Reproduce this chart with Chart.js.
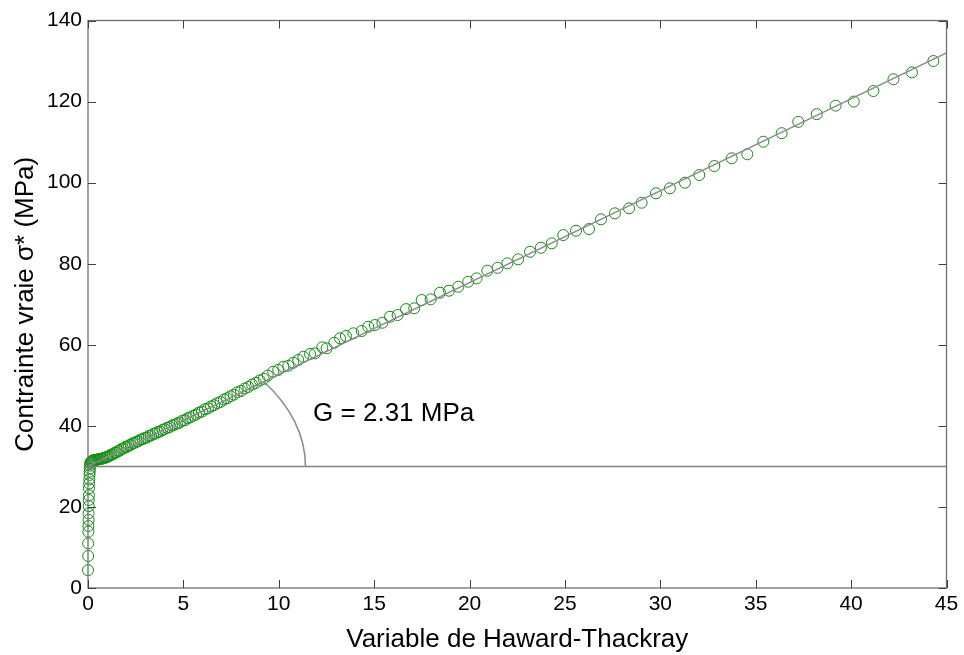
<!DOCTYPE html>
<html>
<head>
<meta charset="utf-8">
<script src="https://cdn.jsdelivr.net/npm/chart.js@4"></script>
<style>
  html, body { margin: 0; padding: 0; background: #fff; }
  canvas { display: block; }
</style>
</head>
<body>
<canvas id="chart" width="964" height="655"></canvas>
<script>
// Measured points: Haward-Thackray variable (x) vs true stress in MPa (y)
const htX = [
    0.00, 0.01, 0.01, 0.02, 0.02, 0.03, 0.03, 0.04, 0.04, 0.05, 0.05, 0.06, 0.07, 0.08, 0.09, 0.10, 0.11, 0.12,
    0.14, 0.17, 0.20, 0.24, 0.28, 0.33, 0.38, 0.44, 0.50, 0.56, 0.62, 0.68, 0.74, 0.80, 0.87, 0.94, 1.00,
    1.05, 1.14, 1.22, 1.31, 1.40, 1.49, 1.58, 1.67, 1.76, 1.85, 1.95, 2.04, 2.14, 2.24, 2.34, 2.44, 2.54, 2.64,
    2.75, 2.86, 2.97, 3.08, 3.19, 3.30, 3.42, 3.54, 3.66, 3.78, 3.90, 4.02, 4.15, 4.28, 4.41, 4.54, 4.67, 4.81,
    4.95, 5.09, 5.23, 5.37, 5.52, 5.67, 5.82, 5.97, 6.13, 6.29, 6.45, 6.61, 6.78, 6.95, 7.12, 7.29, 7.47, 7.65,
    7.83, 8.02, 8.21, 8.40, 8.60, 8.80, 9.00, 9.21, 9.42, 9.71, 9.97,
    10.24, 10.50, 10.76, 11.02, 11.29, 11.64, 11.90, 12.28, 12.51, 12.91, 13.21, 13.52, 13.91, 14.35, 14.69,
    15.04, 15.43, 15.83, 16.23, 16.67, 17.10, 17.49, 17.96, 18.45, 18.92, 19.41, 19.93, 20.37, 20.93, 21.47,
    21.98, 22.55, 23.17, 23.74, 24.31, 24.91, 25.58, 26.26, 26.89, 27.62, 28.36, 29.02, 29.77, 30.50, 31.29,
    32.04, 32.83, 33.74, 34.56, 35.40, 36.36, 37.23, 38.20, 39.19, 40.14, 41.17, 42.22, 43.19, 44.31
];
const sigmaY = [
    4.4, 7.9, 11.0, 13.9, 15.3, 16.8, 18.4, 20.2, 21.7, 22.9, 24.6, 25.8, 26.8, 27.9, 28.7, 29.5, 30.2, 30.7,
    31.0, 31.2, 31.3, 31.4, 31.5, 31.5, 31.6, 31.6, 31.7, 31.8, 31.8, 31.9, 31.9, 32.0, 32.1, 32.2, 32.3,
    32.5, 32.6, 32.9, 33.0, 33.4, 33.4, 33.8, 33.9, 34.3, 34.4, 34.8, 34.8, 35.2, 35.3, 35.7, 35.8, 36.1, 36.2,
    36.6, 36.7, 37.0, 37.1, 37.5, 37.6, 38.0, 38.1, 38.5, 38.6, 39.0, 39.2, 39.5, 39.7, 40.1, 40.3, 40.6, 40.8,
    41.3, 41.4, 41.9, 42.1, 42.5, 42.8, 43.3, 43.5, 44.1, 44.3, 44.8, 45.1, 45.6, 45.9, 46.5, 46.8, 47.3, 47.7,
    48.3, 48.6, 49.2, 49.6, 50.2, 50.6, 51.2, 51.6, 52.4, 53.35, 53.78,
    54.59, 54.83, 55.57, 56.24, 57.05, 57.72, 57.89, 59.37, 59.13, 60.51, 61.59, 62.16, 62.83, 63.39, 64.45,
    64.87, 65.44, 66.92, 67.34, 68.80, 69.00, 71.04, 71.21, 72.84, 73.34, 74.32, 75.55, 76.39, 78.27, 79.00,
    80.09, 81.08, 82.95, 83.94, 85.03, 87.07, 88.14, 88.55, 90.95, 92.43, 93.66, 95.05, 97.37, 98.60, 99.98,
    101.88, 104.10, 106.00, 107.00, 110.10, 112.20, 115.00, 116.90, 119.00, 120.00, 122.60, 125.50, 127.20, 130.00
];

// Linear fit (slope G) and the yield level
const fitX = [0, 45];
const fitY = [30, 132];
const yieldX = [0, 45];
const yieldY = [30, 30];

// Angle arc around the fit origin, radii in data units
const arcCenter = [0, 30];
const arcRadiusX = 11.4;
const arcRadiusY = 35.5;
const slopeLabel = 'G = 2.31 MPa';
const slopeLabelPos = [11.8, 43];

// Axes ticks
const xTickValues = [0, 5, 10, 15, 20, 25, 30, 35, 40, 45];
const yTickValues = [0, 20, 40, 60, 80, 100, 120, 140];

const FONT = '"Liberation Sans", Arial, sans-serif';

// MATLAB-like box with inward ticks, angle arc and G label
const axesBox = {
    id: 'axesBox',
    afterDatasetsDraw(chart) {
        const { ctx, chartArea: a, scales: { x, y } } = chart;
        ctx.save();

        // arc between the yield line and the fit line
        const cx = x.getPixelForValue(arcCenter[0]);
        const cy = y.getPixelForValue(arcCenter[1]);
        const rx = x.getPixelForValue(arcCenter[0] + arcRadiusX) - cx;
        const ry = cy - y.getPixelForValue(arcCenter[1] + arcRadiusY);
        const slopePx = (y.getPixelForValue(fitY[1]) - y.getPixelForValue(fitY[0])) /
                        (x.getPixelForValue(fitX[1]) - x.getPixelForValue(fitX[0]));
        const t = Math.atan(-slopePx * rx / ry);
        ctx.strokeStyle = '#8a8a8a';
        ctx.lineWidth = 1.5;
        ctx.beginPath();
        ctx.ellipse(cx, cy, rx, ry, 0, -t, 0);
        ctx.stroke();

        // label
        ctx.fillStyle = '#000';
        ctx.font = '26px ' + FONT;
        ctx.textBaseline = 'middle';
        ctx.textAlign = 'left';
        ctx.fillText(slopeLabel, x.getPixelForValue(slopeLabelPos[0]), y.getPixelForValue(slopeLabelPos[1]));

        // box
        ctx.strokeStyle = '#707070';
        ctx.lineWidth = 1.3;
        ctx.strokeRect(a.left, a.top, a.right - a.left, a.bottom - a.top);

        // inward ticks on all four sides
        ctx.strokeStyle = '#404040';
        ctx.lineWidth = 1;
        ctx.beginPath();
        xTickValues.forEach(v => {
            const px = Math.round(x.getPixelForValue(v)) + 0.5;
            ctx.moveTo(px, a.bottom); ctx.lineTo(px, a.bottom - 8);
            ctx.moveTo(px, a.top); ctx.lineTo(px, a.top + 8);
        });
        yTickValues.forEach(v => {
            const py = Math.round(y.getPixelForValue(v)) + 0.5;
            ctx.moveTo(a.left, py); ctx.lineTo(a.left + 8, py);
            ctx.moveTo(a.right, py); ctx.lineTo(a.right - 8, py);
        });
        ctx.stroke();
        ctx.restore();
    }
};

const toPoints = (xs, ys) => xs.map((v, i) => ({ x: v, y: ys[i] }));

new Chart(document.getElementById('chart'), {
    type: 'scatter',
    data: {
        datasets: [
            {
                data: toPoints(fitX, fitY),
                showLine: true,
                borderColor: '#8a8a8a',
                borderWidth: 1.5,
                pointRadius: 0
            },
            {
                data: toPoints(yieldX, yieldY),
                showLine: true,
                borderColor: '#808080',
                borderWidth: 1.5,
                pointRadius: 0
            },
            {
                data: toPoints(htX, sigmaY),
                pointStyle: 'circle',
                pointRadius: 5.5,
                pointBorderWidth: 1,
                pointBorderColor: 'rgb(20,140,20)',
                pointBackgroundColor: 'rgba(0,0,0,0)',
                clip: false
            }
        ]
    },
    options: {
        responsive: false,
        animation: false,
        devicePixelRatio: 1,
        layout: { padding: { left: 0, right: 17.5, top: 20.5, bottom: 0 } },
        plugins: {
            legend: { display: false },
            tooltip: { enabled: false }
        },
        scales: {
            x: {
                type: 'linear',
                min: 0,
                max: 45,
                grid: { display: false, drawTicks: false },
                border: { display: false },
                afterBuildTicks: s => { s.ticks = xTickValues.map(v => ({ value: v })); },
                afterFit: s => { s.height = 67; },
                ticks: { color: '#000', font: { family: FONT, size: 21 }, padding: 4, maxRotation: 0 },
                title: {
                    display: true,
                    text: 'Variable de Haward-Thackray',
                    color: '#000',
                    font: { family: FONT, size: 26 },
                    padding: { top: 0, bottom: 0 }
                }
            },
            y: {
                type: 'linear',
                min: 0,
                max: 140,
                grid: { display: false, drawTicks: false },
                border: { display: false },
                afterBuildTicks: s => { s.ticks = yTickValues.map(v => ({ value: v })); },
                afterFit: s => { s.width = 88; },
                ticks: { color: '#000', font: { family: FONT, size: 21 }, padding: 6 },
                title: {
                    display: true,
                    text: 'Contrainte vraie σ* (MPa)',
                    color: '#000',
                    font: { family: FONT, size: 26 },
                    padding: { top: 10, bottom: 0 }
                }
            }
        }
    },
    plugins: [axesBox]
});
</script>
</body>
</html>
